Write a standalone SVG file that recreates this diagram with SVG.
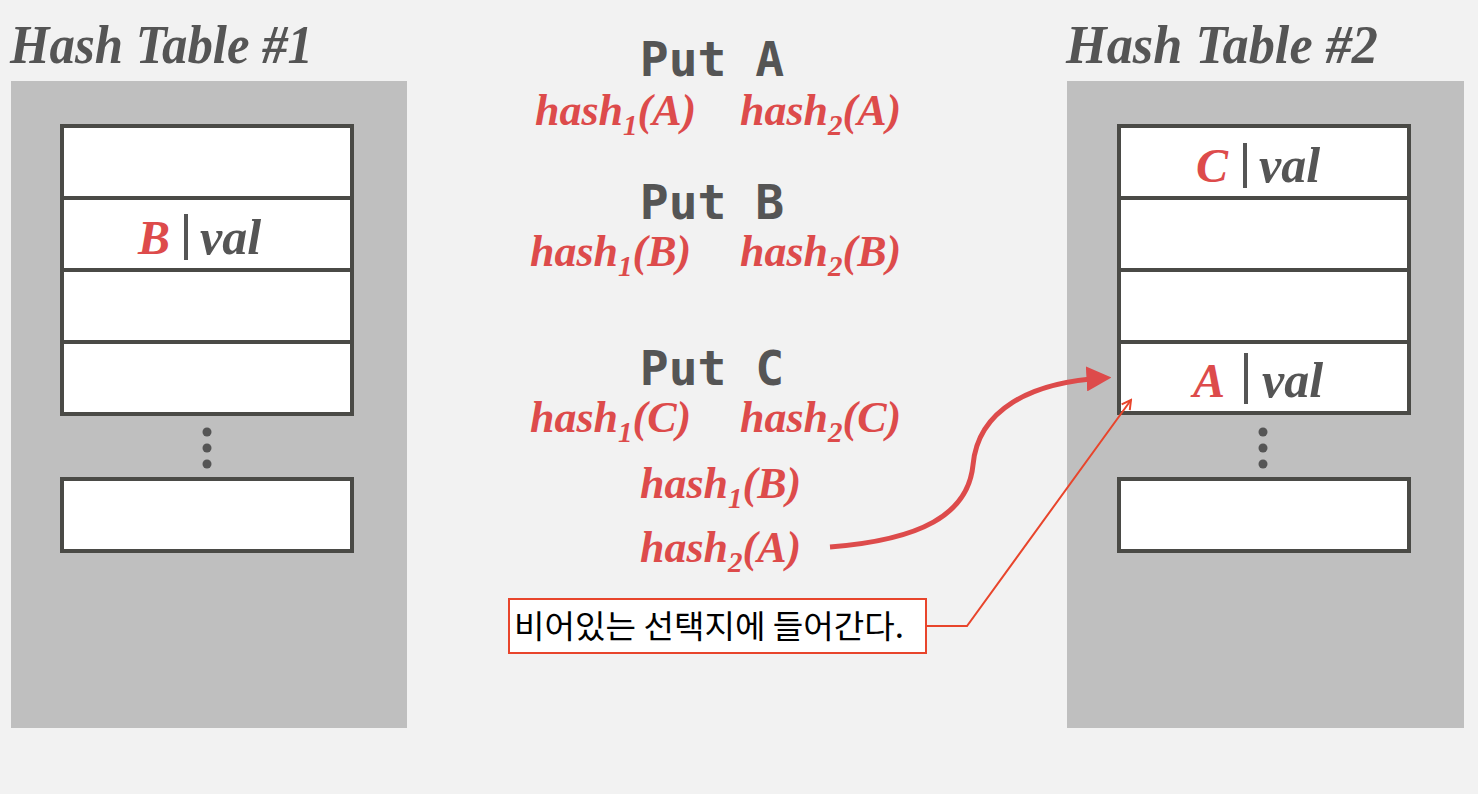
<svg xmlns="http://www.w3.org/2000/svg" width="1478" height="794" viewBox="0 0 1478 794">
<defs>
<style>
.title{font-family:"Liberation Serif",serif;font-weight:bold;font-style:italic;font-size:55px;fill:#555555}
.put{font-family:"DejaVu Sans Mono","Liberation Mono",monospace;font-weight:bold;font-size:48px;fill:#555555}
.hash{font-family:"Liberation Serif",serif;font-weight:bold;font-style:italic;font-size:44px;fill:#dd4b4b}
.sub{font-size:29px}
.panel{fill:#bfbfbf}
.cell{fill:#ffffff;stroke:#4a4a46;stroke-width:4}
.dot{fill:#555555}
.key{font-family:"Liberation Serif",serif;font-weight:bold;font-style:italic;font-size:48px;fill:#dd4b4b}
.val{font-family:"Liberation Serif",serif;font-weight:bold;font-style:italic;font-size:50px;fill:#555555}
.bar{stroke:#555555;stroke-width:4}
.note{font-family:"Noto Sans CJK KR","Noto Sans",sans-serif;font-size:32px;fill:#000000}
</style>
<marker id="bigArrow" markerWidth="5" markerHeight="5" refX="3.5" refY="2.5" orient="auto" markerUnits="strokeWidth">
<path d="M0,0 L5,2.5 L0,5 Z" fill="#dd4b4b"/>
</marker>
<marker id="thinArrow" markerWidth="12" markerHeight="12" refX="10" refY="6" orient="auto" markerUnits="userSpaceOnUse">
<path d="M1,1 L10,6 L1,11" fill="none" stroke="#e8452c" stroke-width="2"/>
</marker>
</defs>
<rect x="0" y="0" width="1478" height="794" fill="#f2f2f2"/>

<g id="table1">
<text class="title" x="10" y="63" textLength="303" lengthAdjust="spacingAndGlyphs">Hash Table #1</text>
<rect class="panel" x="11" y="81" width="396" height="647"/>
<rect class="cell" x="62" y="126" width="290" height="72"/>
<rect class="cell" x="62" y="198" width="290" height="72"/>
<rect class="cell" x="62" y="270" width="290" height="72"/>
<rect class="cell" x="62" y="342" width="290" height="72"/>
<circle class="dot" cx="207" cy="432" r="4.5"/>
<circle class="dot" cx="207" cy="448" r="4.5"/>
<circle class="dot" cx="207" cy="464" r="4.5"/>
<rect class="cell" x="62" y="479" width="290" height="72"/>
<text class="key" x="138" y="254">B</text>
<line class="bar" x1="186" y1="214" x2="186" y2="260"/>
<text class="val" x="200" y="254">val</text>
</g>

<g id="table2">
<text class="title" x="1066" y="63" textLength="312" lengthAdjust="spacingAndGlyphs">Hash Table #2</text>
<rect class="panel" x="1067" y="81" width="397" height="647"/>
<rect class="cell" x="1119" y="126" width="290" height="72"/>
<rect class="cell" x="1119" y="198" width="290" height="72"/>
<rect class="cell" x="1119" y="270" width="290" height="72"/>
<rect class="cell" x="1119" y="342" width="290" height="71"/>
<circle class="dot" cx="1263" cy="432" r="4.5"/>
<circle class="dot" cx="1263" cy="448" r="4.5"/>
<circle class="dot" cx="1263" cy="464" r="4.5"/>
<rect class="cell" x="1119" y="479" width="290" height="72"/>
<text class="key" x="1196" y="182">C</text>
<line class="bar" x1="1245" y1="143" x2="1245" y2="188"/>
<text class="val" x="1259" y="182">val</text>
<text class="key" x="1193" y="397">A</text>
<line class="bar" x1="1246" y1="353" x2="1246" y2="404"/>
<text class="val" x="1262" y="397">val</text>
</g>

<g id="ops">
<text class="put" x="712" y="76" text-anchor="middle">Put A</text>
<text class="hash" x="535" y="125">hash<tspan class="sub" dy="10">1</tspan><tspan dy="-10">(A)</tspan></text>
<text class="hash" x="740" y="125">hash<tspan class="sub" dy="10">2</tspan><tspan dy="-10">(A)</tspan></text>
<text class="put" x="712" y="219" text-anchor="middle">Put B</text>
<text class="hash" x="530" y="266">hash<tspan class="sub" dy="10">1</tspan><tspan dy="-10">(B)</tspan></text>
<text class="hash" x="740" y="266">hash<tspan class="sub" dy="10">2</tspan><tspan dy="-10">(B)</tspan></text>
<text class="put" x="712" y="385" text-anchor="middle">Put C</text>
<text class="hash" x="530" y="432">hash<tspan class="sub" dy="10">1</tspan><tspan dy="-10">(C)</tspan></text>
<text class="hash" x="740" y="432">hash<tspan class="sub" dy="10">2</tspan><tspan dy="-10">(C)</tspan></text>
<text class="hash" x="640" y="498">hash<tspan class="sub" dy="10">1</tspan><tspan dy="-10">(B)</tspan></text>
<text class="hash" x="640" y="562">hash<tspan class="sub" dy="10">2</tspan><tspan dy="-10">(A)</tspan></text>
</g>

<g id="callout">
<rect x="509" y="599" width="417" height="54" fill="#ffffff" stroke="#e8452c" stroke-width="2"/>
<text class="note" x="514" y="638" textLength="390" lengthAdjust="spacingAndGlyphs">비어있는 선택지에 들어간다.</text>
</g>

<g id="connectors">
<path d="M830,547 C920,540 968,515 973,465 C978,410 1030,382 1104,378" fill="none" stroke="#dd4b4b" stroke-width="5" marker-end="url(#bigArrow)"/>
<path d="M926,626 L967,626 L1131,400" fill="none" stroke="#e8452c" stroke-width="2" marker-end="url(#thinArrow)"/>
</g>
</svg>
